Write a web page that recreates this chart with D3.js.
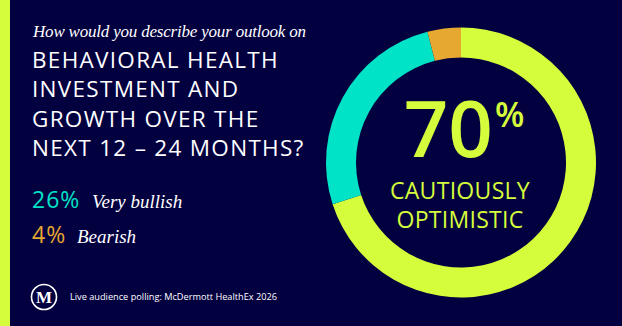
<!DOCTYPE html>
<html>
<head>
<meta charset="utf-8">
<script src="https://cdn.jsdelivr.net/npm/d3@7"></script>
<style>
  html, body { margin: 0; padding: 0; background: #03003f; }
  svg { display: block; }
</style>
</head>
<body>
<div id="chart"></div>
<script>
// poll results
const categories = ["Cautiously optimistic", "Very bullish", "Bearish"];
const values = [70, 26, 4];
const colors = ["#d6fd3b", "#00e3c7", "#e6a830"];

const questionLines = ["BEHAVIORAL HEALTH", "INVESTMENT AND", "GROWTH OVER THE", "NEXT 12 \u2013 24 MONTHS?"];

function drawDonut() {
    const width = 622;
    const height = 326;
    const sans = "'Open Sans', sans-serif";

    const svg = d3.select("#chart")
        .append("svg")
        .attr("width", width)
        .attr("height", height);

    svg.append("rect").attr("width", width).attr("height", height).attr("fill", "#03003f");
    // lime stripe on the left
    svg.append("rect").attr("width", 10).attr("height", height).attr("fill", colors[0]);

    // left-hand text
    svg.append("text")
        .attr("x", 33).attr("y", 37)
        .attr("fill", "#fff")
        .style("font-family", "Liberation Serif, serif")
        .style("font-style", "italic")
        .style("font-size", "17px")
        .style("letter-spacing", "-0.2px")
        .text("How would you describe your outlook on");

    svg.append("g").selectAll("text")
        .data(questionLines)
        .enter()
        .append("text")
        .attr("x", 32)
        .attr("y", (d, i) => 67.5 + i * 29.5)
        .attr("fill", "#fff")
        .style("font-family", sans)
        .style("font-size", "22.5px")
        .style("letter-spacing", "1.3px")
        .text(d => d);

    // legend for the two smaller slices
    const legend = svg.append("g").selectAll("g")
        .data([1, 2])
        .enter()
        .append("g")
        .attr("transform", (d, i) => `translate(32, ${208 + i * 35})`);

    legend.append("text")
        .attr("fill", d => colors[d])
        .style("font-family", sans)
        .style("font-size", "23px")
        .style("letter-spacing", "1px")
        .text(d => values[d] + "%");

    legend.append("text")
        .attr("x", (d, i) => i === 0 ? 60 : 45)
        .attr("fill", "#fff")
        .style("font-family", "Liberation Serif, serif")
        .style("font-style", "italic")
        .style("font-size", "19px")
        .text(d => categories[d].replace(/^v/, "V").replace(/^b/, "B"));

    // footer with logo
    const logo = svg.append("g").attr("transform", "translate(44, 297)");
    logo.append("circle").attr("r", 12.5).attr("fill", "none").attr("stroke", "#fff").attr("stroke-width", 1.6);
    logo.append("text")
        .attr("text-anchor", "middle")
        .attr("y", 6)
        .attr("fill", "#fff")
        .style("font-family", "Liberation Serif, serif")
        .style("font-weight", "bold")
        .style("font-size", "17px")
        .text("M");

    svg.append("text")
        .attr("x", 70).attr("y", 300)
        .attr("fill", "#fff")
        .style("font-family", sans)
        .style("font-size", "9.2px")
        .text("Live audience polling: McDermott HealthEx 2026");

    // donut
    const cx = 461, cy = 162.5;
    const pie = d3.pie().sort(null).value(d => d);
    const arc = d3.arc().innerRadius(105).outerRadius(135);

    const g = svg.append("g").attr("transform", `translate(${cx}, ${cy})`);
    g.selectAll("path")
        .data(pie(values))
        .enter()
        .append("path")
        .attr("d", arc)
        .attr("fill", (d, i) => colors[i]);

    const big = g.append("text")
        .attr("text-anchor", "middle")
        .attr("x", 3)
        .attr("y", -6)
        .attr("fill", colors[0])
        .style("font-family", sans)
        .style("font-weight", 600);
    big.append("tspan")
        .style("font-size", "78px")
        .text(values[0]);
    big.append("tspan")
        .attr("dx", 2)
        .attr("dy", -30)
        .style("font-size", "34px")
        .text("%");

    g.selectAll(".label")
        .data(categories[0].toUpperCase().split(" "))
        .enter()
        .append("text")
        .attr("class", "label")
        .attr("text-anchor", "middle")
        .attr("x", -1)
        .attr("y", (d, i) => 36 + i * 29)
        .attr("fill", colors[0])
        .style("font-family", sans)
        .style("font-size", "23px")
        .style("letter-spacing", "0.3px")
        .text(d => d);
}

drawDonut();
</script>
</body>
</html>
